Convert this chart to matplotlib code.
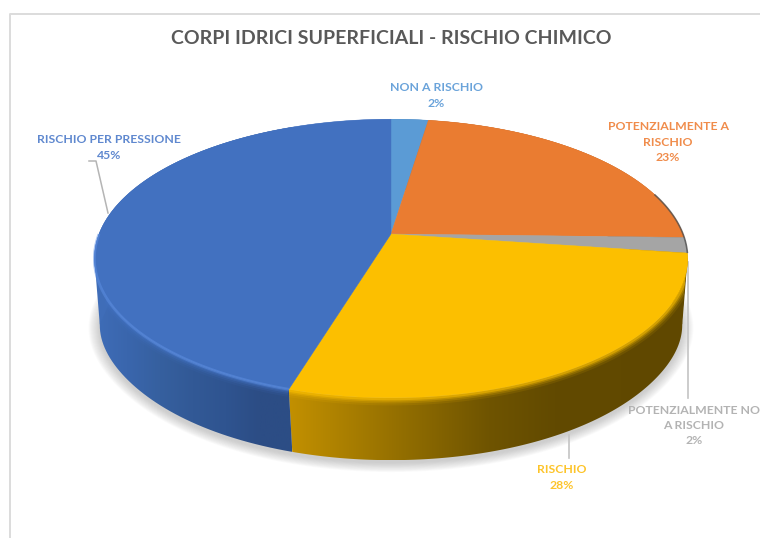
import numpy as np
import matplotlib.pyplot as plt
from matplotlib.colors import LinearSegmentedColormap
from matplotlib.patches import Polygon

plt.rcParams['font.family'] = ['Lato', 'DejaVu Sans']

title = 'CORPI IDRICI SUPERFICIALI - RISCHIO CHIMICO'
names = ['NON A RISCHIO', 'POTENZIALMENTE A\nRISCHIO', 'POTENZIALMENTE NO\nA RISCHIO', 'RISCHIO', 'RISCHIO PER PRESSIONE']
values = [2.4, 23.0, 1.8, 27.5, 45.3]
face_colors = ['#5b9bd5', '#ea7c31', '#a5a5a5', '#fcbf00', '#4271c0']
label_colors = ['#6aa3da', '#f08c4b', '#b3b3b3', '#fdc42a', '#5f88cf']
label_pos = [(436, 95.5), (668, 142), (694, 425.5), (562, 477.5), (109, 147.5)]

# pie geometry, in pixels of the picture
cx, cy = 391, 234
R, H, k = 292, 135, 0.176
ell_y = 258.5
bot_y, bot_sy = 325, 0.97


def top_rim(pct):
    a = np.radians(np.asarray(pct, dtype=float) * 3.6)
    u, v = np.sin(a), np.cos(a)
    w = 1 + k * v
    return cx + R * u / w, cy - H * v / w


def bottom_rim(pct):
    x, y = top_rim(pct)
    # the lower edge stays wide near the sides, where the rim is rounded
    f = 0.966 + 0.016 * (np.abs(x - cx) / 297) ** 12
    return cx + f * (x - cx), bot_y + bot_sy * (y - ell_y)


fig = plt.figure(figsize=(7.6, 5.38), dpi=100, facecolor='white')
ax = fig.add_axes([0, 0, 1, 1])
ax.axis('off')

# chart frame
ax.plot([10, 10, 760], [538, 14, 14], color='#dcdcdc', lw=1.4, zorder=1)

edges = np.concatenate([[0], np.cumsum(values)])

# soft shadow under the pie
ring = np.linspace(0, 100, 300)
bx, by = bottom_rim(ring)
for i in range(12):
    grow = 1 + i * 0.0035
    sx = cx + grow * (bx - cx)
    sy = bot_y + 3 + (1 + i * 0.006) * (by - bot_y)
    ax.add_patch(Polygon(np.column_stack([sx, sy]), fc='#808080', ec='none', alpha=0.035, zorder=2))

# leader lines
ax.plot([89, 96, 108], [161, 161, 213], color='#b5b5b5', lw=1.1, zorder=3)
ax.plot([688, 688], [262, 398], color='#c4c4c4', lw=1.2, zorder=3)
ax.plot([569, 569], [435, 458], color='#c4c4c4', lw=1.2, zorder=3)

# side walls with a left to right shading
wall_shades = {
    3: ['#c29000', '#a67c00', '#8a6800', '#6f5400', '#624a00', '#614900', '#604800'],
    4: ['#3f6db8', '#3a66ad', '#36609f', '#325996', '#2f5490', '#2c4d85', '#2c4d85'],
    2: ['#5a5a5a', '#5a5a5a'],
    1: ['#6b3a14', '#6b3a14'],
    0: ['#3c6690', '#3c6690'],
}
for i in range(len(values)):
    p = np.linspace(edges[i], edges[i + 1], 120)
    tx, ty = top_rim(p)
    lx, ly = bottom_rim(p)
    xs = np.concatenate([tx, lx[::-1]])
    ys = np.concatenate([ty, ly[::-1]])
    poly = Polygon(np.column_stack([xs, ys]), fc='none', ec='none', zorder=4)
    ax.add_patch(poly)
    cmap = LinearSegmentedColormap.from_list('wall', wall_shades[i])
    if i == 4:
        # only the front part shows, keep the shading on it
        x0, x1 = 94, 292
    else:
        x0, x1 = xs.min(), xs.max()
    im = ax.imshow(np.linspace(0, 1, 256)[None, :], extent=[x0, x1, ys.max(), ys.min()],
                   cmap=cmap, aspect='auto', zorder=4, interpolation='bilinear')
    im.set_clip_path(poly)

    # bevel where the wall meets the top face
    for lw, alpha in [(11, 0.10), (8, 0.18), (5.5, 0.30), (3.5, 0.5)]:
        ln, = ax.plot(tx, ty, color=face_colors[i], lw=lw, alpha=alpha, zorder=5,
                      solid_capstyle='butt')
        ln.set_clip_path(poly)

# close the wedges left between top and bottom rim at the two sides
tx, ty = top_rim(ring)
for side, col in [(1, wall_shades[3][-1]), (-1, wall_shades[4][0])]:
    a = np.argmax(side * tx)
    b = np.argmax(side * bx)
    pts = [(tx[a], ty[a]), (bx[b], by[b]), (bx[b] - side * 30, ty[a])]
    ax.add_patch(Polygon(pts, fc=col, ec='none', zorder=4.5))

# top face
for i in range(len(values)):
    p = np.linspace(edges[i], edges[i + 1], 200)
    tx, ty = top_rim(p)
    pts = np.column_stack([np.r_[cx, tx], np.r_[cy, ty]])
    ax.add_patch(Polygon(pts, fc=face_colors[i], ec=face_colors[i], lw=0.3, zorder=6))

# light edge on the blue rim, dark edge on the right hand side
hx, hy = top_rim(np.linspace(edges[4], 75, 200))
ax.plot(hx, hy, color='#5e90e4', lw=2, alpha=0.5, zorder=7, solid_capstyle='butt')
dx, dy = top_rim(np.linspace(20, edges[3], 60))
ax.plot(dx, dy, color='#4d4d4d', lw=1.2, alpha=0.75, zorder=7, solid_capstyle='butt')

# texts
ax.text(391, 38.5, title, ha='center', va='center', fontsize=14.0, fontweight='bold', color='#595959', zorder=8)
for name, val, col, pos in zip(names, values, label_colors, label_pos):
    ax.text(pos[0], pos[1], f'{name}\n{val:.0f}%', ha='center', va='center', fontsize=8.85,
            fontweight='bold', color=col, linespacing=1.5, zorder=8)

ax.set_xlim(0, 760)
ax.set_ylim(538, 0)
fig.savefig('out.png', dpi=100, facecolor='white')
